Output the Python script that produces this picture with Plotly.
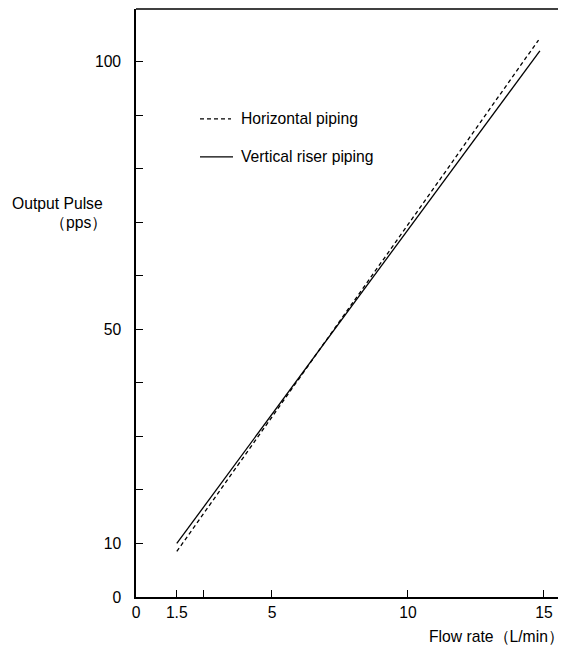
import plotly.graph_objects as go

# Data
flow_horizontal = [1.5, 14.8]
pulse_horizontal = [8.5, 104.0]
flow_vertical = [1.5, 14.85]
pulse_vertical = [10.0, 102.0]

x_tickvals = [0, 1.5, 2.5, 5, 10, 15]
x_ticktext = ["0", "1.5", "", "5", "10", "15"]
y_tickvals = [0, 10, 20, 30, 40, 50, 60, 70, 80, 90, 100]
y_ticktext = ["0", "10", "", "", "", "50", "", "", "", "", "100"]

legend_names = ["Horizontal piping", "Vertical riser piping"]

FONT = "Liberation Sans, Arial, Helvetica, sans-serif"
FS = 15.7
OFF = 8  # page body margin
W, H = 566 - OFF, 648 - OFF
L, R, T, B = 136 - OFF, 0, 9 - OFF, 648 - 597.5
PW, PH = W - L - R, H - T - B


def px(xp):
    return (xp - OFF - L) / PW


def py(yp):
    return (H - B - (yp - OFF)) / PH


fig = go.Figure()
fig.add_trace(go.Scatter(
    x=flow_horizontal, y=pulse_horizontal, mode="lines",
    name=legend_names[0], showlegend=False,
    line=dict(color="black", width=1.3, dash="4px,3px"),
))
fig.add_trace(go.Scatter(
    x=flow_vertical, y=pulse_vertical, mode="lines",
    name=legend_names[1], showlegend=False,
    line=dict(color="black", width=1.3),
))

fig.update_layout(
    width=W, height=H,
    margin=dict(l=L, r=R, t=T, b=B, pad=0),
    paper_bgcolor="white", plot_bgcolor="white",
    font=dict(family=FONT, size=FS, color="black"),
    xaxis=dict(
        range=[0, 15.81], showgrid=False, zeroline=False,
        showline=True, linecolor="black", linewidth=1.5,
        ticks="inside", ticklen=7, tickwidth=1.3, tickcolor="black",
        tickvals=x_tickvals, ticktext=x_ticktext,
        ticklabelstandoff=0,
    ),
    yaxis=dict(
        range=[0, 109.8], showgrid=False, zeroline=False,
        showline=True, linecolor="black", linewidth=1.5,
        ticks="inside", ticklen=7, tickwidth=1.3, tickcolor="black",
        tickvals=y_tickvals, ticktext=y_ticktext,
        ticklabelstandoff=10,
    ),
)

# top border line only
fig.add_shape(type="line", xref="paper", yref="paper", x0=0, x1=1, y0=1, y1=1,
              line=dict(color="black", width=1.5))

# manual legend
fig.add_shape(type="line", xref="paper", yref="paper",
              x0=px(200), x1=px(231), y0=py(119), y1=py(119),
              line=dict(color="black", width=1.3, dash="4px,3px"))
fig.add_shape(type="line", xref="paper", yref="paper",
              x0=px(200), x1=px(233), y0=py(157), y1=py(157),
              line=dict(color="black", width=1.3))
fig.add_annotation(text=legend_names[0], xref="paper", yref="paper",
                   x=px(239), y=py(119), xanchor="left", yanchor="middle",
                   showarrow=False, font=dict(size=FS))
fig.add_annotation(text=legend_names[1], xref="paper", yref="paper",
                   x=px(239), y=py(157), xanchor="left", yanchor="middle",
                   showarrow=False, font=dict(size=FS))

# axis titles
fig.add_annotation(text="Output Pulse", xref="paper", yref="paper",
                   x=px(105), y=py(204),
                   xanchor="right", yanchor="middle", showarrow=False,
                   font=dict(size=FS))
fig.add_annotation(text="（pps）", xref="paper", yref="paper",
                   x=px(109), y=py(223),
                   xanchor="right", yanchor="middle", showarrow=False,
                   font=dict(size=FS))
fig.add_annotation(text="Flow rate（L/min）", xref="paper", yref="paper",
                   x=1.0, y=py(637),
                   xanchor="right", yanchor="middle", showarrow=False,
                   font=dict(size=FS))

fig.write_html("out.html")
